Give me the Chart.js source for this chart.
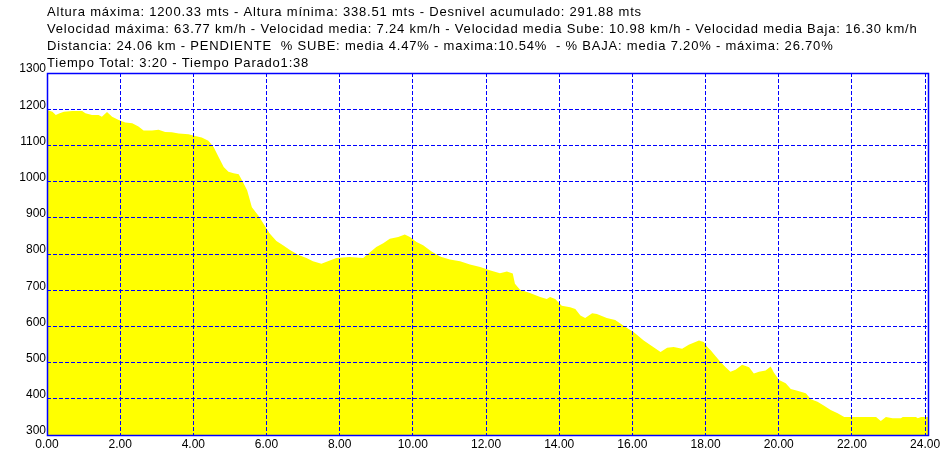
<!DOCTYPE html>
<html>
<head>
<meta charset="utf-8">
<script src="https://cdn.jsdelivr.net/npm/chart.js@4.4.0/dist/chart.umd.min.js"></script>
<style>
  body { margin: 0; background: #fff; }
  canvas { display: block; }
</style>
</head>
<body>
<canvas id="perfil" width="951" height="457"></canvas>
<script>
const distKm = [0, 0.15, 0.24, 0.33, 0.46, 0.69, 0.96, 1.05, 1.23, 1.41, 1.5, 1.64, 1.78, 1.96, 2.14, 2.33, 2.5, 2.64, 2.87, 3.05,
  3.23, 3.41, 3.6, 3.87, 4.05, 4.23, 4.41, 4.55, 4.69, 4.83, 4.96, 5.1, 5.24, 5.33, 5.47, 5.6, 5.78, 5.97, 6.08, 6.27,
  6.45, 6.63, 6.86, 7.09, 7.27, 7.5, 7.73, 7.91, 8.27, 8.64, 8.78, 9.0, 9.19, 9.37, 9.6, 9.78, 9.92, 10.1, 10.28, 10.51,
  10.74, 11.01, 11.29, 11.56, 11.84, 12.1, 12.38, 12.57, 12.73, 12.79, 12.93, 13.2, 13.48, 13.66, 13.75, 13.89, 14.07, 14.3, 14.44, 14.58,
  14.71, 14.9, 15.03, 15.3, 15.53, 15.76, 16.04, 16.31, 16.54, 16.77, 16.95, 17.13, 17.36, 17.54, 17.82, 17.95, 18.05, 18.14, 18.27, 18.41,
  18.55, 18.68, 18.82, 19.0, 19.19, 19.32, 19.46, 19.64, 19.78, 19.87, 20.01, 20.19, 20.33, 20.51, 20.74, 20.88, 21.06, 21.24, 21.42, 21.61,
  21.79, 22.06, 22.66, 22.79, 22.93, 23.11, 23.34, 23.39, 23.75, 23.8, 23.89, 24.08];
const alturaM = [1198, 1193, 1184, 1188, 1193, 1195, 1195, 1189, 1184, 1184, 1179, 1192, 1179, 1170, 1163, 1161, 1152, 1141, 1141, 1143,
  1137, 1136, 1133, 1131, 1126, 1122, 1113, 1096, 1068, 1040, 1027, 1023, 1020, 1004, 976, 929, 906, 875, 857, 836,
  824, 812, 798, 789, 780, 773, 782, 789, 792, 789, 801, 819, 830, 842, 847, 854, 847, 833, 824, 807,
  793, 785, 780, 771, 764, 755, 747, 752, 746, 718, 701, 692, 681, 676, 681, 676, 657, 653, 648, 630,
  623, 636, 634, 623, 618, 602, 584, 561, 545, 529, 541, 543, 538, 549, 561, 557, 543, 534, 518, 502,
  487, 475, 480, 494, 487, 470, 475, 478, 489, 472, 452, 443, 427, 422, 415, 399, 392, 381, 369, 360,
  350, 350, 350, 339, 350, 346, 346, 350, 350, 346, 350, 350];

const xTicks = [0, 2, 4, 6, 8, 10, 12, 14, 16, 18, 20, 22, 24];
const yTicks = [300, 400, 500, 600, 700, 800, 900, 1000, 1100, 1200, 1300];

const headerLines = [
  "Altura máxima: 1200.33 mts - Altura mínima: 338.51 mts - Desnivel acumulado: 291.88 mts",
  "Velocidad máxima: 63.77 km/h - Velocidad media: 7.24 km/h - Velocidad media Sube: 10.98 km/h - Velocidad media Baja: 16.30 km/h",
  "Distancia: 24.06 km - PENDIENTE  % SUBE: media 4.47% - maxima:10.54%  - % BAJA: media 7.20% - máxima: 26.70%",
  "Tiempo Total: 3:20 - Tiempo Parado1:38"
];

const FONT = '"Liberation Sans", Arial, sans-serif';
const BLUE = "#0000ff";

// texto de cabecera y marco
const headerPlugin = {
  id: "header",
  afterDraw(chart) {
    const ctx = chart.ctx;
    const area = chart.chartArea;
    ctx.save();
    ctx.font = "13px " + FONT;
    ctx.letterSpacing = "0.8px";
    ctx.fillStyle = "#000";
    ctx.textBaseline = "alphabetic";
    for (let i = 0; i < headerLines.length; i++) {
      ctx.fillText(headerLines[i], area.left, 15.5 + i * 17.1);
    }
    ctx.letterSpacing = "0px";
    ctx.strokeStyle = BLUE;
    ctx.lineWidth = 1.5;
    ctx.strokeRect(area.left + 0.5, area.top + 0.5, area.right - area.left, area.bottom - area.top);
    ctx.restore();
  }
};

new Chart(document.getElementById("perfil"), {
  type: "line",
  data: {
    datasets: [{
      data: distKm.map((d, i) => ({ x: d, y: alturaM[i] })),
      fill: "start",
      backgroundColor: "#ffff00",
      borderColor: "#ffff00",
      borderWidth: 0,
      pointRadius: 0,
      tension: 0
    }]
  },
  options: {
    responsive: false,
    animation: false,
    devicePixelRatio: 1,
    layout: { padding: { top: 73, right: 23, left: 0, bottom: 0 } },
    plugins: { legend: { display: false }, tooltip: { enabled: false } },
    scales: {
      x: {
        type: "linear",
        min: 0,
        max: 24.08,
        afterBuildTicks: (s) => { s.ticks = xTicks.map((v) => ({ value: v })); },
        afterFit: (s) => { s.height = 22; },
        ticks: {
          callback: (v) => Number(v).toFixed(2),
          font: { family: FONT, size: 12 },
          color: "#000",
          padding: 2,
          maxRotation: 0,
          autoSkip: false
        },
        grid: { color: BLUE, lineWidth: 1, drawTicks: false, z: 1 },
        border: { display: false, dash: [4, 2] }
      },
      y: {
        min: 300,
        max: 1300,
        afterBuildTicks: (s) => { s.ticks = yTicks.map((v) => ({ value: v })); },
        afterFit: (s) => { s.width = 47; },
        ticks: {
          callback: (v) => String(v),
          font: { family: FONT, size: 12 },
          color: "#000",
          padding: 1,
          labelOffset: -4,
          autoSkip: false
        },
        grid: { color: BLUE, lineWidth: 1, drawTicks: false, z: 1 },
        border: { display: false, dash: [4, 2] }
      }
    }
  },
  plugins: [headerPlugin]
});
</script>
</body>
</html>
